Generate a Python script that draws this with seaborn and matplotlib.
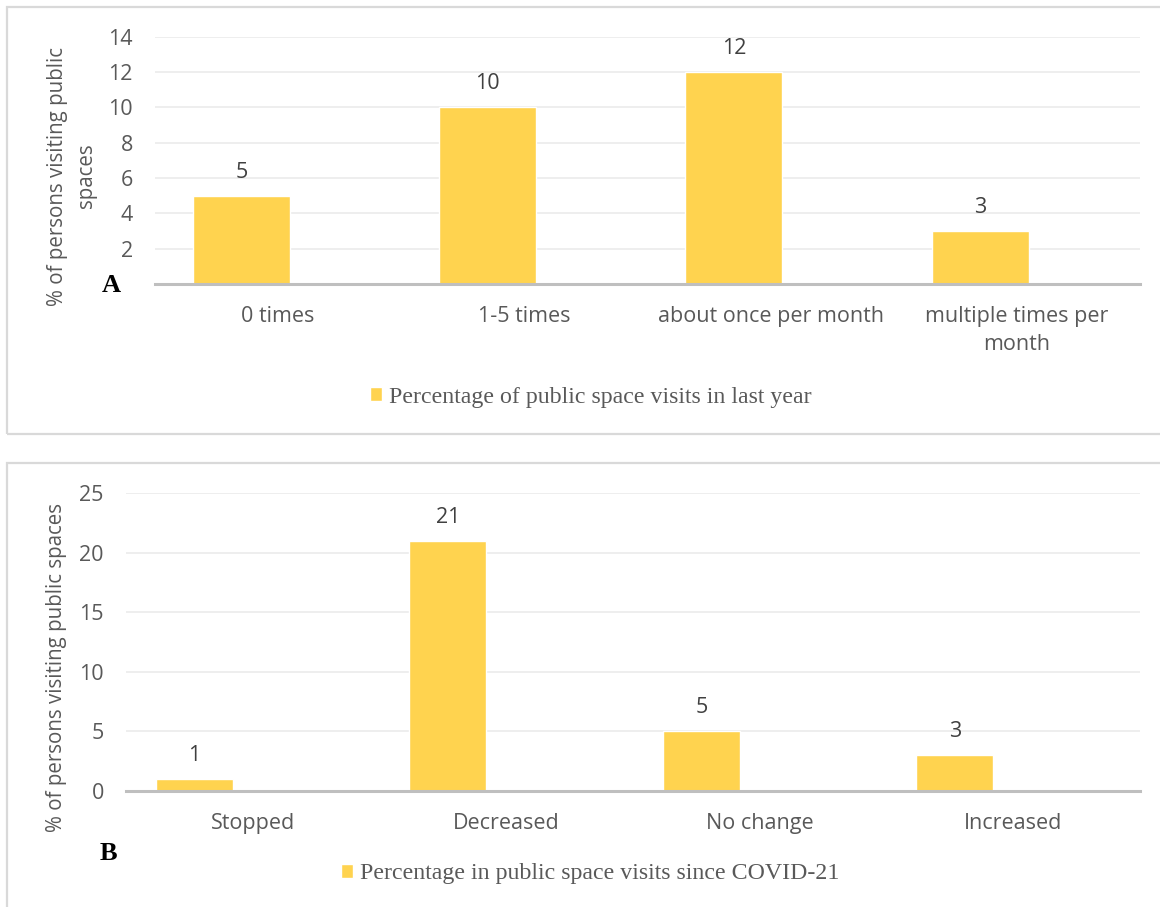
import matplotlib
matplotlib.use("Agg")
import matplotlib.pyplot as plt
import seaborn as sns
import pandas as pd
from matplotlib.patches import Rectangle

# ---------------- data ----------------
cats_a = ["0 times", "1-5 times", "about once per month", "multiple times per\nmonth"]
vals_a = [5, 10, 12, 3]
yticks_a = [2, 4, 6, 8, 10, 12, 14]
ylabel_a = "% of persons visiting public\nspaces"
legend_a = "Percentage of public space visits in last year"

cats_b = ["Stopped", "Decreased", "No change", "Increased"]
vals_b = [1, 21, 5, 3]
yticks_b = [0, 5, 10, 15, 20, 25]
ylabel_b = "% of persons visiting public spaces"
legend_b = "Percentage in public space visits since COVID-21"

# ---------------- style ----------------
GOLD = "#FFD34F"
GRAY_TXT = "#595959"
GRID = "#EDEDED"
AXIS = "#BFBFBF"
BORDER = "#D9D9D9"
TICK_FS = 15.5
YLAB_FS = 14.8

sns.set_theme(style="white")
plt.rcParams['font.family'] = ['Open Sans', 'DejaVu Sans']

W, H = 1160, 907
fig = plt.figure(figsize=(W / 100, H / 100), dpi=100)


def px_axes(l, t, r, b):
    return fig.add_axes([l / W, 1 - b / H, (r - l) / W, (b - t) / H])


def panel(ax, ax_px, cats, vals, ymax, ticks, width, shift, ylabel, ylab_px,
          leg_label, leg_px, leg_fs, letter, letter_px, box):
    df = pd.DataFrame({"cat": cats, "val": vals})
    sns.barplot(data=df, x="cat", y="val", color=GOLD, saturation=1,
                width=width, ax=ax, label=leg_label)
    for p in ax.patches:
        p.set_x(p.get_x() + shift)
    ax.set_xlim(-0.5, len(cats) - 0.5)
    ax.set_ylim(0, ymax)
    ax.set_yticks(ticks)
    ax.grid(axis="y", color=GRID, lw=1.3)
    ax.grid(axis="x", visible=False)
    ax.set_axisbelow(True)
    for s in ["top", "right", "left"]:
        ax.spines[s].set_visible(False)
    ax.spines["bottom"].set_color(AXIS)
    ax.spines["bottom"].set_linewidth(2.2)
    ax.spines["bottom"].set_zorder(5)
    ax.tick_params(axis="both", length=0, labelsize=TICK_FS, colors=GRAY_TXT)
    ax.tick_params(axis="y", pad=16)
    ax.tick_params(axis="x", pad=16)
    for lab in ax.get_xticklabels():
        lab.set_linespacing(1.42)
    ax.set_xlabel("")
    # y label placed by pixel position (centre of text block)
    ax.set_ylabel(ylabel, fontsize=YLAB_FS, color=GRAY_TXT, linespacing=1.45)
    ax.yaxis.label.set_va("center")
    l, t, r, b = ax_px
    ax.yaxis.set_label_coords((ylab_px[0] - l) / (r - l), (b - ylab_px[1]) / (b - t))
    # data labels
    for p, v in zip(ax.patches, vals):
        ax.annotate(str(v), (p.get_x() + p.get_width() / 2, p.get_height()),
                    xytext=(0, 17), textcoords="offset points",
                    ha="center", va="center", fontsize=TICK_FS, color="#404040")
    # legend
    ax.legend(loc="center", bbox_to_anchor=(leg_px[0] / W, 1 - leg_px[1] / H),
              bbox_transform=fig.transFigure, frameon=False,
              prop={"family": "Liberation Serif", "size": leg_fs},
              labelcolor=GRAY_TXT, handlelength=0.5, handleheight=0.5,
              handletextpad=0.3)
    # panel letter
    fig.text(letter_px[0] / W, 1 - letter_px[1] / H, letter,
             family="Liberation Serif", weight="bold", fontsize=19,
             ha="center", va="center", color="black")
    # border box
    bl, bt, br, bb = box
    fig.patches.append(Rectangle((bl / W, 1 - bb / H), (br - bl) / W, (bb - bt) / H,
                                 transform=fig.transFigure, fill=False,
                                 ec=BORDER, lw=1.6, zorder=0))


# Panel A
pxA = (155, 36.7, 1140, 284)
axA = px_axes(*pxA)
panel(axA, pxA, cats_a, vals_a, 14, yticks_a, 0.394, -0.149, ylabel_a, (72, 176),
      legend_a, (591, 397), 17.2, "A", (111, 286), (7, 7, 1200, 434))

# Panel B
pxB = (126, 493, 1140, 791)
axB = px_axes(*pxB)
panel(axB, pxB, cats_b, vals_b, 25, yticks_b, 0.304, -0.23, ylabel_b, (57, 667),
      legend_b, (590, 874), 17.2, "B", (108, 853), (7, 463, 1200, 960))

fig.savefig("out.png", dpi=100)
